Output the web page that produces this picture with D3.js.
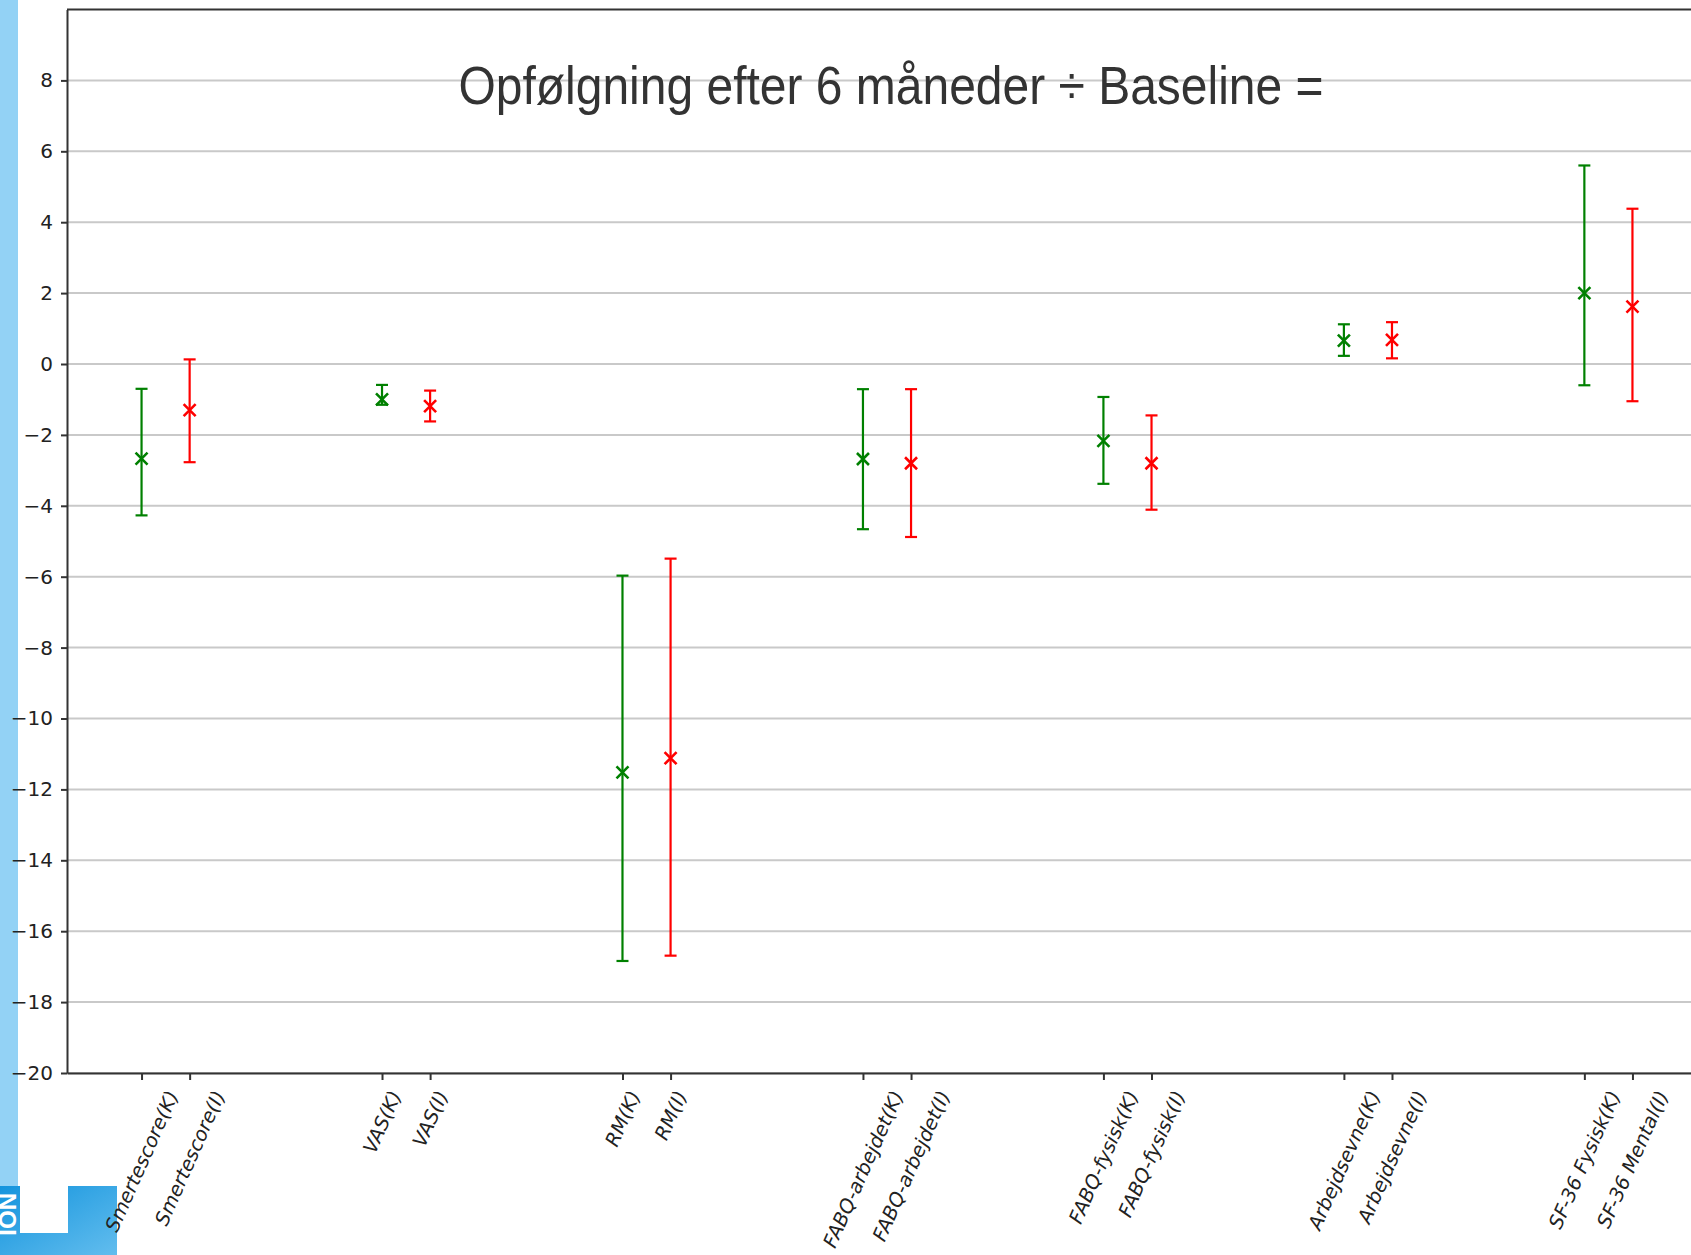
<!DOCTYPE html>
<html>
<head>
<meta charset="utf-8">
<script src="https://cdn.jsdelivr.net/npm/d3@7"></script>
<style>
    html, body { margin: 0; padding: 0; background: #fff; overflow: hidden; }
    .axis text { font-family: 'DejaVu Sans', sans-serif; fill: #222; }
    .axis path, .axis line { stroke: #333; }
</style>
</head>
<body>
<svg id="chart"></svg>
<script>
// values (change from baseline, with lower/upper bounds)
const labels = ['Smertescore(K)', 'Smertescore(I)', 'VAS(K)', 'VAS(I)', 'RM(K)', 'RM(I)',
    'FABQ-arbejdet(K)', 'FABQ-arbejdet(I)', 'FABQ-fysisk(K)', 'FABQ-fysisk(I)',
    'Arbejdsevne(K)', 'Arbejdsevne(I)', 'SF-36 Fysisk(K)', 'SF-36 Mental(I)'];
const positions = [0, 1, 5, 6, 10, 11, 15, 16, 20, 21, 25, 26, 30, 31];
const groups = ['K', 'I', 'K', 'I', 'K', 'I', 'K', 'I', 'K', 'I', 'K', 'I', 'K', 'I'];
const means = [-2.67, -1.30, -1.00, -1.19, -11.52, -11.12, -2.68, -2.80, -2.17, -2.80, 0.66, 0.68, 2.00, 1.62];
const lower = [-4.27, -2.77, -1.15, -1.62, -16.84, -16.69, -4.66, -4.88, -3.38, -4.11, 0.23, 0.16, -0.60, -1.05];
const upper = [-0.70, 0.13, -0.59, -0.75, -5.97, -5.49, -0.71, -0.71, -0.93, -1.45, 1.12, 1.18, 5.60, 4.38];
const yTicks = [-20, -18, -16, -14, -12, -10, -8, -6, -4, -2, 0, 2, 4, 6, 8];
const title = 'Opfølgning efter 6 måneder ÷ Baseline =';

let width = 1691;
let height = 1255;
let plotMargins = {
    top: 9.5,
    bottom: 182,
    left: 67,
    right: -16
};
let plotWidth = width - plotMargins.left - plotMargins.right;
let plotHeight = height - plotMargins.top - plotMargins.bottom;

let color = d3.scaleOrdinal()
    .domain(['K', 'I'])
    .range(['#008000', '#ff0000']);

let svg = d3.select('#chart')
    .attr('width', width)
    .attr('height', height);

// slide decoration on the left
let grad = svg.append('defs')
    .append('linearGradient')
    .attr('id', 'logoGrad')
    .attr('x1', '0%').attr('y1', '0%')
    .attr('x2', '100%').attr('y2', '100%');
grad.append('stop').attr('offset', '0%').attr('stop-color', '#1494dd');
grad.append('stop').attr('offset', '100%').attr('stop-color', '#62bdee');

svg.append('rect')
    .attr('x', 0).attr('y', 0)
    .attr('width', 18).attr('height', 1186)
    .style('fill', '#93d2f5');
svg.append('path')
    .attr('d', 'M0,1186H20V1233H68V1186H117V1255H0Z')
    .style('fill', 'url(#logoGrad)');
svg.append('text')
    .attr('transform', 'translate(16,1193) rotate(-90)')
    .attr('text-anchor', 'end')
    .style('font-family', 'Liberation Sans, Arial, sans-serif')
    .style('font-weight', 'bold')
    .style('font-size', '24px')
    .style('fill', '#fff')
    .text('ION');

let plotGroup = svg.append('g')
    .classed('plot', true)
    .attr('transform', `translate(${plotMargins.left},${plotMargins.top})`);

let xScale = d3.scaleLinear()
    .domain([-1.55, 32.55])
    .range([0, plotWidth]);
let yScale = d3.scaleLinear()
    .domain([-20, 10])
    .range([plotHeight, 0]);

// horizontal grid
plotGroup.append('g')
    .classed('grid', true)
    .selectAll('line')
    .data(yTicks)
    .enter()
    .append('line')
    .attr('x1', 0)
    .attr('x2', plotWidth)
    .attr('y1', d => yScale(d))
    .attr('y2', d => yScale(d))
    .style('stroke', '#c9c9c9')
    .style('stroke-width', 2);

// top spine
plotGroup.append('line')
    .attr('x1', 0).attr('x2', plotWidth)
    .attr('y1', 0).attr('y2', 0)
    .style('stroke', '#333')
    .style('stroke-width', 2);

let yAxis = d3.axisLeft(yScale)
    .tickValues(yTicks)
    .tickSize(6)
    .tickSizeOuter(0)
    .tickPadding(8);
let yAxisGroup = plotGroup.append('g')
    .classed('axis', true)
    .call(yAxis);
yAxisGroup.selectAll('text').style('font-size', '20px');
yAxisGroup.selectAll('path, line').style('stroke-width', 2);

let xAxis = d3.axisBottom(xScale)
    .tickValues(positions)
    .tickFormat((d, i) => labels[i])
    .tickSize(7)
    .tickSizeOuter(0);
let xAxisGroup = plotGroup.append('g')
    .classed('axis', true)
    .attr('transform', `translate(${0},${plotHeight})`)
    .call(xAxis);
xAxisGroup.selectAll('path, line').style('stroke-width', 2);

// rotated labels, box centred under the tick, top just below it
let angle = 66;
let fontSize = 19.5;
xAxisGroup.selectAll('text')
    .style('font-size', fontSize + 'px')
    .style('font-style', 'italic')
    .attr('dy', null)
    .attr('y', 0)
    .attr('text-anchor', 'middle')
    .attr('dominant-baseline', 'central')
    .each(function () {
        let len = this.getComputedTextLength();
        let rad = angle * Math.PI / 180;
        let boxHeight = len * Math.sin(rad) + fontSize * Math.cos(rad);
        let cy = 15 + boxHeight / 2;
        d3.select(this).attr('transform', `translate(0,${cy}) rotate(${-angle})`);
    });

// error bars
let bars = plotGroup.append('g')
    .classed('series-group', true)
    .selectAll('.bar')
    .data(positions)
    .enter()
    .append('g')
    .classed('bar', true)
    .attr('transform', d => `translate(${xScale(d)},0)`)
    .style('stroke', (d, i) => color(groups[i]))
    .style('stroke-width', 2.2)
    .style('fill', 'none');

bars.append('line')
    .attr('x1', 0).attr('x2', 0)
    .attr('y1', (d, i) => yScale(lower[i]))
    .attr('y2', (d, i) => yScale(upper[i]));
bars.append('line')
    .attr('x1', -6).attr('x2', 6)
    .attr('y1', (d, i) => yScale(lower[i]))
    .attr('y2', (d, i) => yScale(lower[i]));
bars.append('line')
    .attr('x1', -6).attr('x2', 6)
    .attr('y1', (d, i) => yScale(upper[i]))
    .attr('y2', (d, i) => yScale(upper[i]));
bars.append('path')
    .style('stroke-width', 2.6)
    .attr('d', (d, i) => {
        let m = yScale(means[i]);
        return `M-6,${m - 6}L6,${m + 6}M-6,${m + 6}L6,${m - 6}`;
    });

// overlaid slide title
svg.append('text')
    .attr('transform', 'translate(891,104) scale(1,1.1)')
    .attr('text-anchor', 'middle')
    .style('font-family', 'Liberation Sans, Arial, sans-serif')
    .style('font-size', '48px')
    .style('fill', '#333')
    .text(title);
</script>
</body>
</html>
